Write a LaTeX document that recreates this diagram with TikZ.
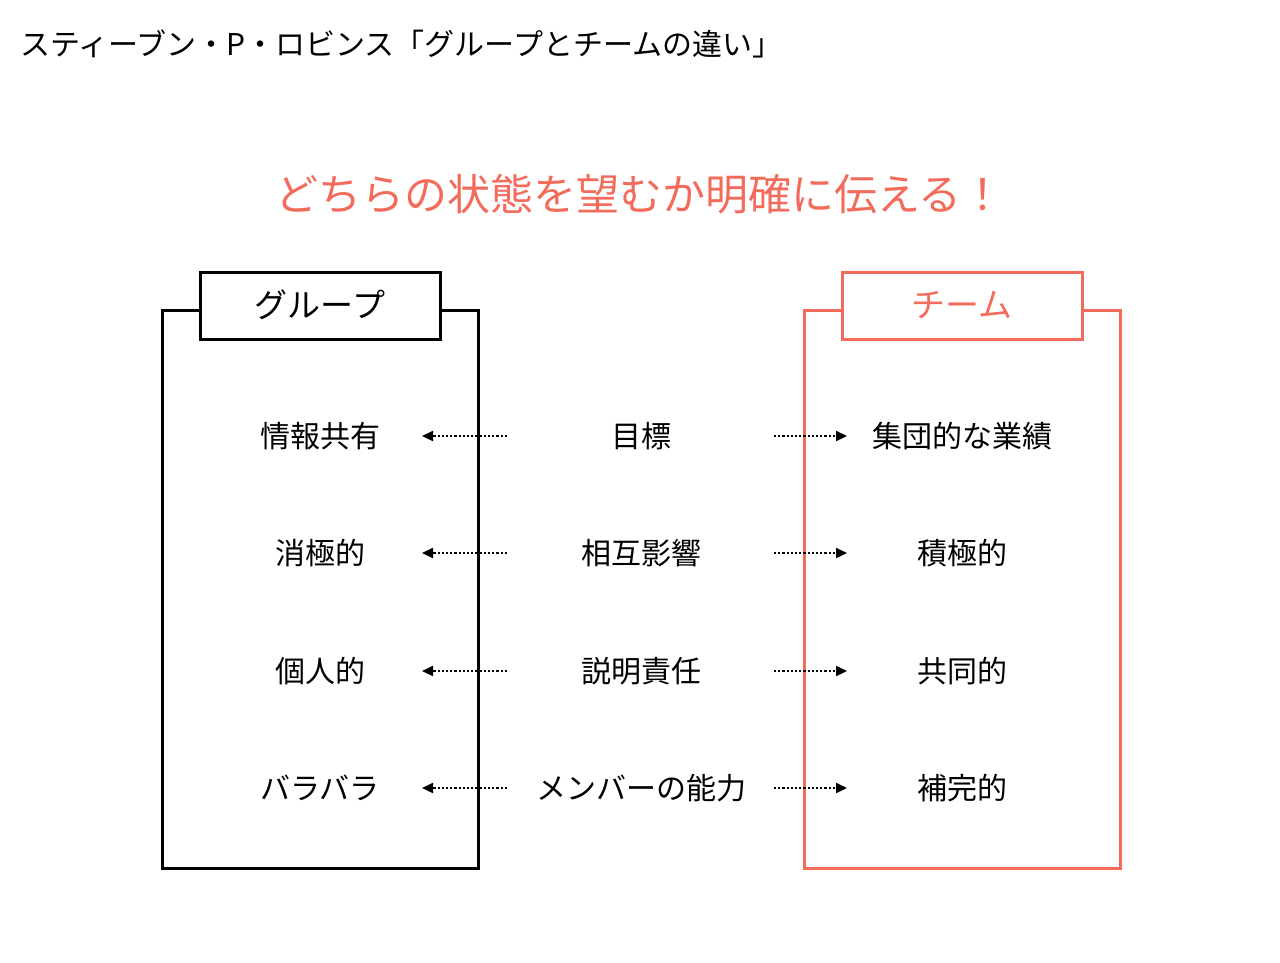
\documentclass[tikz,border=0pt]{standalone}
\usepackage{fontspec}
\setmainfont{Noto Sans CJK JP}
\usetikzlibrary{arrows.meta}
\definecolor{coral}{HTML}{F26B5B}
\begin{document}
\begin{tikzpicture}[x=1pt,y=-1pt,
  lbl/.style={font=\fontsize{30}{34}\selectfont, anchor=center, inner sep=0},
  frame/.style={line width=3pt},
  arr/.style={line width=2.2pt, dotted, -{Triangle[length=11pt,width=10pt]}}]
\useasboundingbox (0,0) rectangle (1280,962);
\node[anchor=west, font=\fontsize{30}{34}\selectfont, inner sep=0] (title) at (20,44) {スティーブン・P・ロビンス「グループとチームの違い」};
\node[font=\fontsize{43}{48}\selectfont, text=coral] (head) at (640,194) {どちらの状態を望むか明確に伝える！};
% group
\draw[frame] (162,310) rectangle (478,868);
\draw[frame, fill=white] (200,272) rectangle (440,339);
\node[font=\fontsize{33}{38}\selectfont] (g) at (320,305) {グループ};
% team
\draw[frame, coral] (804,310) rectangle (1120,868);
\draw[frame, coral, fill=white] (842,272) rectangle (1082,339);
\node[font=\fontsize{34}{38}\selectfont, text=coral] (t) at (962,305) {チーム};
\foreach \i/\y/\l/\m/\r in {1/436/情報共有/目標/集団的な業績, 2/553/消極的/相互影響/積極的, 3/671/個人的/説明責任/共同的, 4/788/バラバラ/メンバーの能力/補完的}{
  \node[lbl] (l\i) at (320,\y) {\l};
  \node[lbl] (m\i) at (641,\y) {\m};
  \node[lbl] (r\i) at (962,\y) {\r};
  \coordinate (la\i) at (507,\y);
  \coordinate (lb\i) at (422,\y);
  \coordinate (ra\i) at (774,\y);
  \coordinate (rb\i) at (847,\y);
  \draw[arr] (la\i) -- (lb\i);
  \draw[arr] (ra\i) -- (rb\i);
}
\end{tikzpicture}
\end{document}
